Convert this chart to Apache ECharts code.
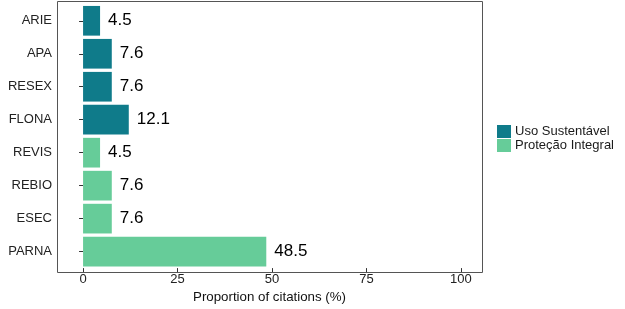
<!DOCTYPE html>
<html><head><meta charset="utf-8">
<script src="https://cdn.jsdelivr.net/npm/echarts@6/dist/echarts.min.js"></script>
<style>html,body{margin:0;padding:0;background:#fff}#c{width:625px;height:309px}</style>
</head><body><div id="c"></div>
<script>
const categories = ['ARIE','APA','RESEX','FLONA','REVIS','REBIO','ESEC','PARNA'];
const usoSustentavel = [4.5, 7.6, 7.6, 12.1, null, null, null, null];
const protecaoIntegral = [null, null, null, null, 4.5, 7.6, 7.6, 48.5];
const xTicks = [0, 25, 50, 75, 100];
const seriesNames = ['Uso Sustentável', 'Proteção Integral'];

const font = 'Liberation Sans, Arial, sans-serif';
const chart = echarts.init(document.getElementById('c'), null, {renderer: 'canvas'});
const label = {show: true, position: 'right', distance: 8, color: '#000', fontSize: 17, fontFamily: font,
  formatter: p => p.value.toFixed(1)};
chart.setOption({
  animation: false,
  grid: {left: 57, right: 143, top: 4.3, bottom: 309 - 268.7},
  legend: {orient: 'vertical', left: 497, top: 125, padding: 0, itemWidth: 14, itemHeight: 13, itemGap: 1,
    icon: 'rect', textStyle: {fontFamily: font, fontSize: 13, color: '#1a1a1a', padding: [0,0,0,-1]},
    data: seriesNames},
  xAxis: {type: 'value', min: -6.9, max: 105.6,
    axisLine: {show: false}, splitLine: {show: false},
    axisTick: {show: true, length: 4, lineStyle: {color: '#333'}, customValues: xTicks},
    axisLabel: {customValues: xTicks, fontFamily: font, fontSize: 13, color: '#222', margin: 5},
    name: 'Proportion of citations (%)', nameLocation: 'middle', nameGap: 22,
    nameTextStyle: {fontFamily: font, fontSize: 13.3, color: '#111'}},
  yAxis: {type: 'category', data: categories, inverse: true,
    axisLine: {show: false},
    axisTick: {show: true, alignWithLabel: true, length: 4, lineStyle: {color: '#333'}},
    axisLabel: {fontFamily: font, fontSize: 13, color: '#222', margin: 5}},
  graphic: [{type: 'rect', shape: {x: 57.5, y: 1.5, width: 425, height: 271},
    style: {fill: null, stroke: '#555', lineWidth: 1}, z: 100, silent: true}],
  series: [
    {name: seriesNames[0], type: 'bar', stack: 's', data: usoSustentavel, barWidth: '90%',
      itemStyle: {color: '#0F7B8A'}, label: label},
    {name: seriesNames[1], type: 'bar', stack: 's', data: protecaoIntegral, barWidth: '90%',
      itemStyle: {color: '#66CC99'}, label: label}
  ]
});
</script></body></html>
